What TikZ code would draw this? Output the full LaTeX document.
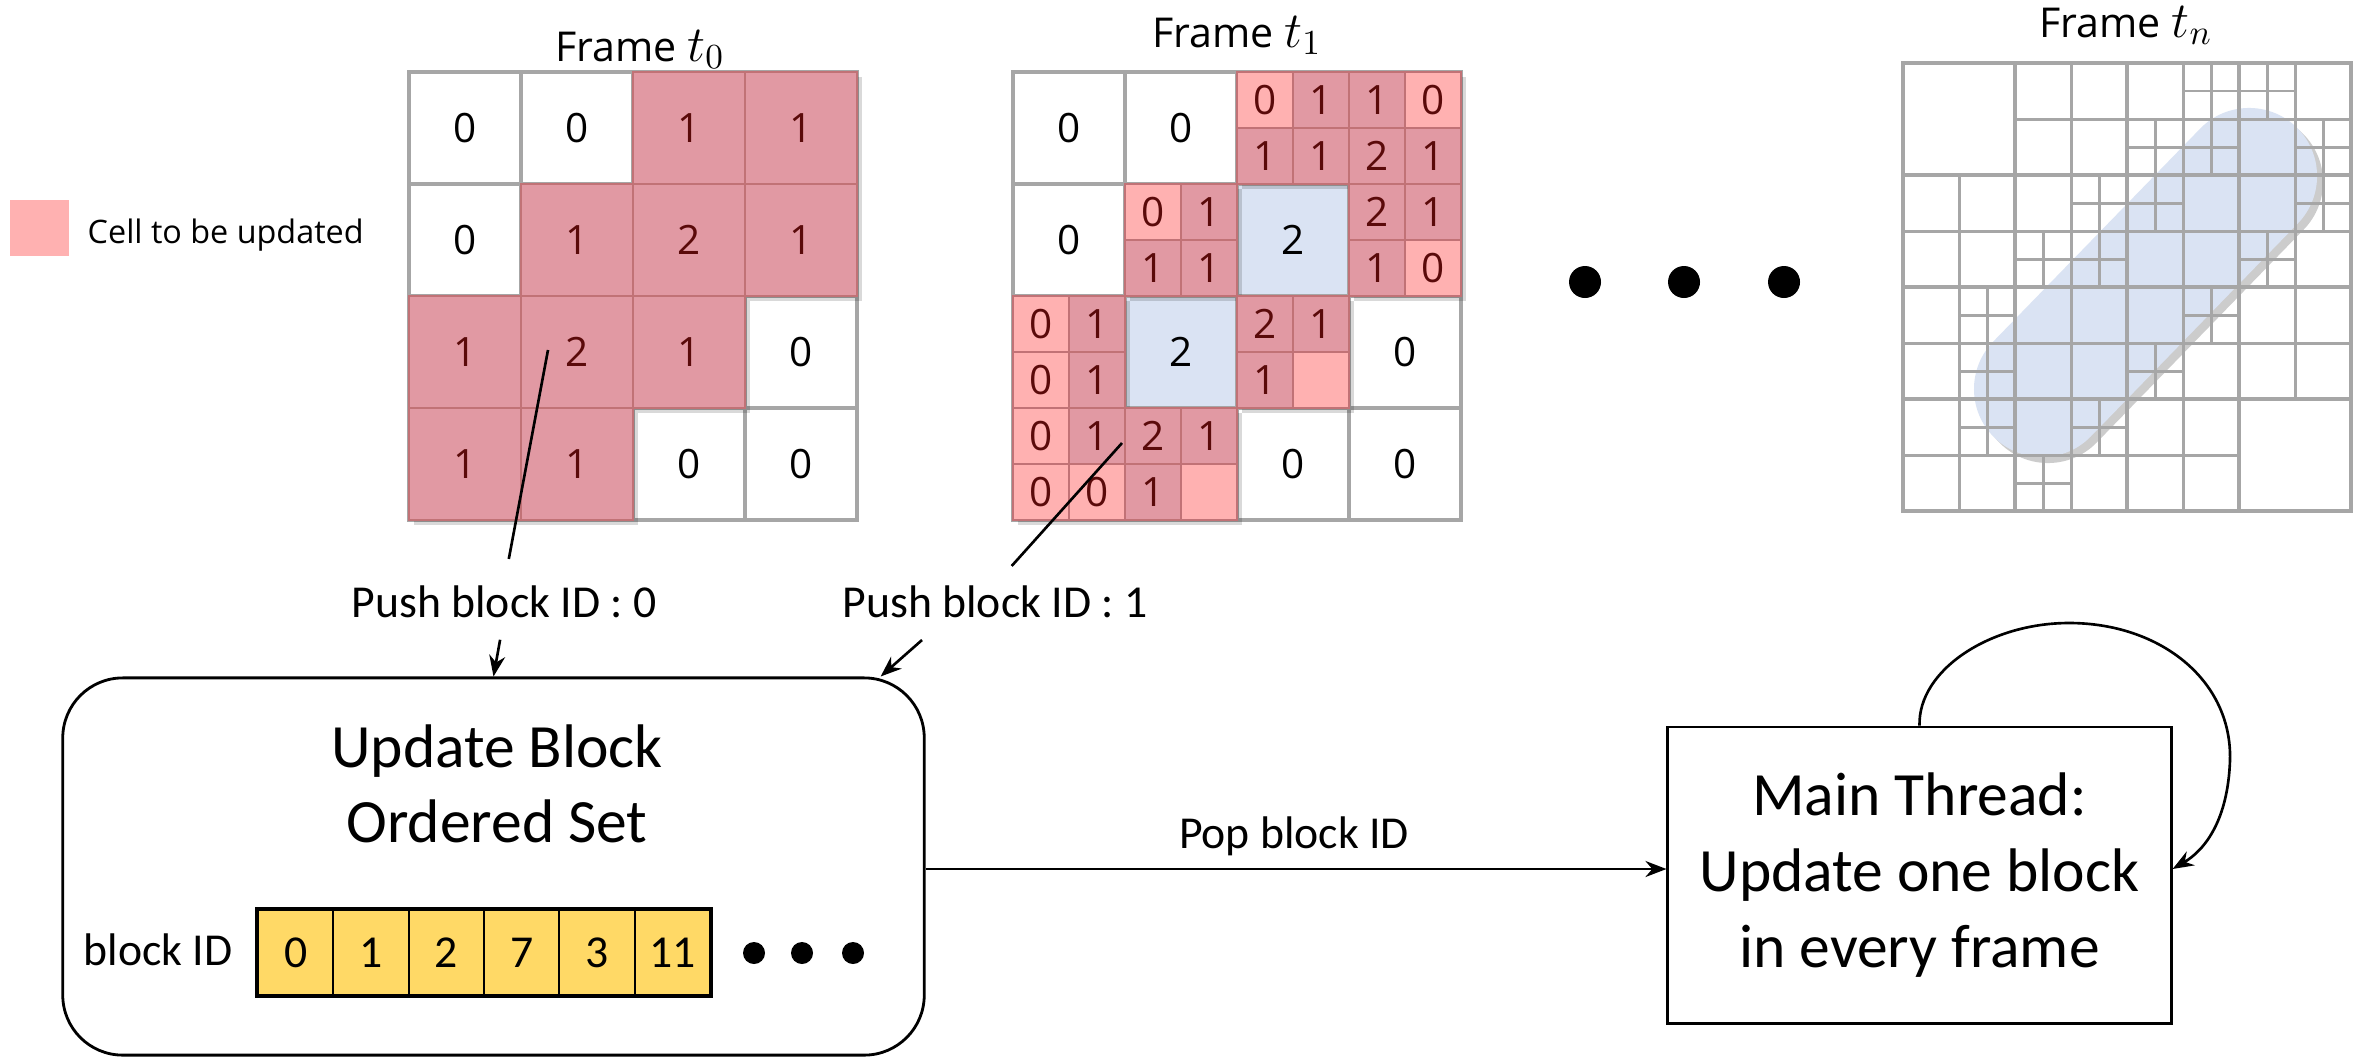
\documentclass[tikz,border=0pt]{standalone}
\usepackage{fontspec}
\setmainfont{Carlito}
\newfontfamily\segoe{Open Sans}
\usetikzlibrary{arrows.meta}

\definecolor{gridgray}{HTML}{A6A6A6}
\definecolor{rosefill}{HTML}{E199A3}
\definecolor{roseline}{HTML}{C17276}
\definecolor{pinklight}{HTML}{FFB1B1}
\definecolor{cellred}{HTML}{5A0A0A}
\definecolor{capblue}{HTML}{DAE3F3}
\definecolor{idgold}{HTML}{FFD966}

\newcommand{\framet}[1]{{\fontsize{14.5}{15}\selectfont$t_{#1}$}}

\tikzset{
  gridline/.style={draw=gridgray, line width=1pt},
  finegrid/.style={draw=gridgray, line width=0.85pt},
  hotcell/.style={draw=roseline, line width=0.8pt, fill=rosefill},
  newcell/.style={draw=roseline, line width=0.8pt, fill=pinklight},
  cellshadow/.style={fill=black, opacity=0.15},
  num/.style={font=\segoe\fontsize{11.5}{12}\selectfont, inner sep=0pt},
  framelabel/.style={font=\segoe\fontsize{11.7}{13}\selectfont, inner sep=0pt, anchor=base},
  lbl/.style={font=\fontsize{13}{15}\selectfont, inner sep=0pt, anchor=base},
  arrow/.style={-{Stealth[length=0.21cm, width=0.16cm]}, line width=0.75pt},
  idcell/.style={draw, line width=0.5pt, fill=idgold, minimum width=0.7533cm,
    minimum height=0.85cm, inner sep=0pt, font=\fontsize{13}{15}\selectfont},
}

\begin{document}
\begin{tikzpicture}[x=0.01cm, y=-0.01cm]
    \useasboundingbox (0,0) rectangle (2364,1057);

    % Legend
    \fill[pinklight] (10,200) rectangle (69,256);
    \node[font=\segoe\fontsize{9.2}{11}\selectfont, anchor=west, inner sep=0pt] (legend) at (87,235) {Cell to be updated};

    % Frame t0
    \node[framelabel] (f0) at (640,61) {Frame \framet{0}};
    \begin{scope}[shift={(409,72)}]
        \foreach \r in {0,...,3}
            \foreach \c in {0,...,3}
                \draw[gridline, fill=white] (\c*112,\r*112) rectangle ++(112,112);
        \foreach \c/\r in {2/0,3/0,1/1,2/1,3/1,0/2,1/2,2/2,0/3,1/3}
            \fill[cellshadow] (\c*112+5,\r*112+5) rectangle ++(112,112);
        \foreach \c/\r/\v in {2/0/1,3/0/1,1/1/1,2/1/2,3/1/1,0/2/1,1/2/2,2/2/1,0/3/1,1/3/1} {
            \draw[hotcell] (\c*112,\r*112) rectangle ++(112,112);
            \node[num, text=cellred] (a\c\r) at (\c*112+56,\r*112+56) {\v};
        }
        \foreach \c/\r in {0/0,1/0,0/1,3/2,2/3,3/3}
            \node[num] (a\c\r) at (\c*112+56,\r*112+56) {0};
    \end{scope}

    % Frame t1
    \node[framelabel] (f1) at (1237,47) {Frame \framet{1}};
    \begin{scope}[shift={(1013,72)}]
        \foreach \r in {0,...,3}
            \foreach \c in {0,...,3}
                \draw[gridline, fill=white] (\c*112,\r*112) rectangle ++(112,112);
        \foreach \c/\r in {0/0,1/0,0/1,3/2,2/3,3/3}
            \node[num] (b\c\r) at (\c*112+56,\r*112+56) {0};
        % settled cells
        \foreach \c/\r in {2/1,1/2} {
            \draw[gridline, fill=capblue] (\c*112,\r*112) rectangle ++(112,112);
            \node[num] (b\c\r) at (\c*112+56,\r*112+56) {2};
        }
        % split cells
        \foreach \c/\r in {2/0,3/0,1/1,3/1,0/2,2/2,0/3,1/3}
            \fill[cellshadow] (\c*112+5,\r*112+5) rectangle ++(112,112);
        \foreach \i/\j/\v in {5/0/1,4/1/1,5/1/1,6/0/1,6/1/2,7/1/1,3/2/1,2/3/1,3/3/1,6/2/2,7/2/1,
                6/3/1,1/4/1,1/5/1,4/4/2,5/4/1,4/5/1,1/6/1,2/6/2,3/6/1,2/7/1} {
            \draw[hotcell] (\i*56,\j*56) rectangle ++(56,56);
            \node[num, text=cellred] (s\i\j) at (\i*56+28,\j*56+28) {\v};
        }
        \foreach \i/\j in {4/0,7/0,2/2,7/3,0/4,0/5,0/6,0/7,1/7} {
            \draw[newcell] (\i*56,\j*56) rectangle ++(56,56);
            \node[num, text=cellred] (s\i\j) at (\i*56+28,\j*56+28) {0};
        }
        \foreach \i/\j in {5/5,3/7}
            \draw[newcell] (\i*56,\j*56) rectangle ++(56,56);
    \end{scope}

    % Frames in between
    \foreach \x in {1585,1684,1784}
        \fill (\x,282) circle (16);

    % Frame tn
    \node[framelabel] (fn) at (2126,37) {Frame \framet{n}};
    \begin{scope}[shift={(1903,63)}]
        \fill[white] (0,0) rectangle (448,448);
        \draw[line width=1.36cm, line cap=round, black, opacity=0.2] (145,332) -- (352,119);
        \draw[line width=1.36cm, line cap=round, capblue] (139,326) -- (346,113);
        \draw[gridline, line width=1.2pt] (0,0) rectangle (448,448);
        \foreach \k in {112,224,336} {
            \draw[gridline, line width=1.2pt] (\k,0) -- (\k,448);
            \draw[gridline, line width=1.2pt] (0,\k) -- (448,\k);
        }
        \foreach \bx/\by in {1/0,2/0,3/0,0/1,1/1,2/1,3/1,0/2,1/2,2/2,3/2,0/3,1/3,2/3} {
            \draw[finegrid] (\bx*112+56,\by*112) -- ++(0,112);
            \draw[finegrid] (\bx*112,\by*112+56) -- ++(112,0);
        }
        \foreach \i/\j in {5/0,6/0,4/1,5/1,7/1,3/2,4/2,7/2,2/3,3/3,6/3,1/4,5/4,1/5,4/5,1/6,3/6,2/7} {
            \draw[finegrid] (\i*56+28,\j*56) -- ++(0,56);
            \draw[finegrid] (\i*56,\j*56+28) -- ++(56,0);
        }
    \end{scope}

    % Update block ordered set
    \node[draw, line width=0.8pt, rounded corners=0.6cm, minimum width=8.61cm, minimum height=3.77cm] (ubos) at (493.5,866.5) {};
    \node[font=\fontsize{17.5}{21.3}\selectfont, align=center, inner sep=0pt] (title) at (497,784) {Update Block\\Ordered Set};
    \node[lbl, anchor=base east] (idlabel) at (233,965) {block ID};
    \foreach \v [count=\k] in {0,1,2,7,3,11}
        \node[idcell] (id\k) at (258+75.33*\k-37.67,952.5) {\v};
    \draw[line width=1pt] (id1.north west) rectangle (id6.south east);
    \foreach \x in {754,802,853}
        \fill (\x,953) circle (11);

    % Main thread
    \node[draw, line width=0.8pt, minimum width=5.03cm, minimum height=2.96cm, align=center,
        font=\fontsize{17.5}{21.6}\selectfont] (main) at (1919.5,875) {Main Thread:\\Update one block\\in every frame};

    % Push labels
    \node[lbl] (push0) at (504,617) {Push block ID : 0};
    \node[lbl] (push1) at (995,617) {Push block ID : 1};
    \coordinate (pick0) at (548,350);
    \coordinate (pick1) at (1122,443);
    \draw[line width=0.75pt, shorten >=0.26cm] (pick0) -- (push0.north);
    \draw[line width=0.75pt, shorten >=0.25cm] (pick1) -- (push1.north);
    \draw[arrow, shorten <=0.22cm] (push0.south) -- (ubos.north);
    \coordinate (p1tail) at (922,640);
    \draw[arrow] (p1tail) -- ([xshift=-0.45cm]ubos.north east);

    % Pop
    \coordinate (popy) at (0,869);
    \draw[arrow] (ubos.east |- popy) -- (main.west |- popy);
    \node[lbl] (pop) at (1294,848) {Pop block ID};

    % Every frame
    \draw[arrow] (main.north) .. controls (1918,670) and (1990,623) .. (2069,623)
        .. controls (2160,623) and (2232,680) .. (2230,760)
        .. controls (2228,820) and (2205,850) .. ([yshift=0.06cm]main.east);

\end{tikzpicture}
\end{document}
